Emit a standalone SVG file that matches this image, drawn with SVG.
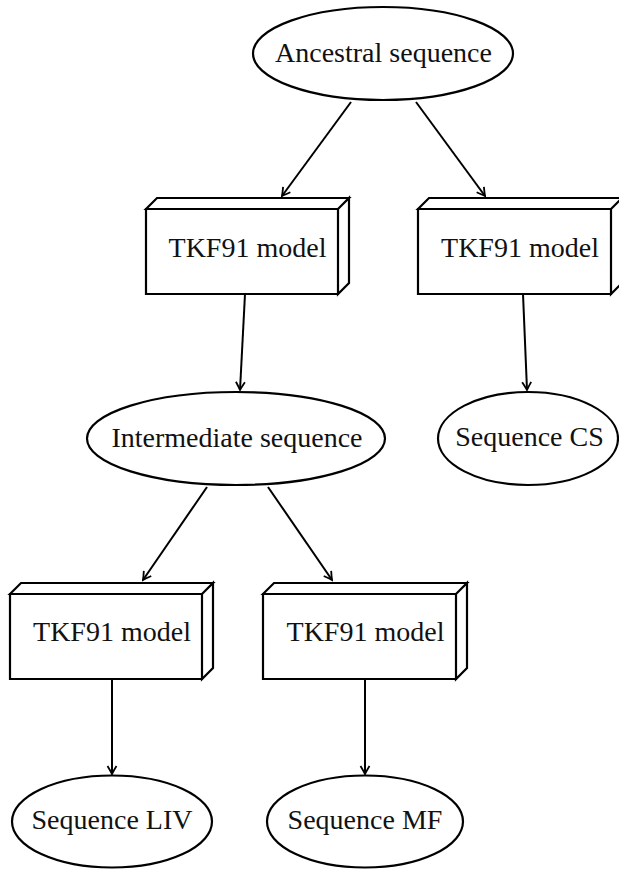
<svg xmlns="http://www.w3.org/2000/svg" width="619" height="869" viewBox="0 0 619 869">
<style>
.n{fill:#fff;stroke:#000;stroke-width:2.2;stroke-linejoin:miter}
.t{font-family:"Liberation Serif","Times New Roman",Times,serif;font-size:28px;fill:#111;text-anchor:middle}
.c{fill:none;stroke:#000;stroke-width:2}
</style>
<defs>
<marker id="ah" viewBox="-10 -6 12 12" refX="0" refY="0" markerWidth="12" markerHeight="12" markerUnits="userSpaceOnUse" orient="auto">
<path d="M-8,-4.5 Q-2.5,-1.2 0,0 Q-2.5,1.2 -8,4.5" fill="none" stroke="#000" stroke-width="1.8"/>
</marker>
</defs>
<g id="connectors">
<path class="c" d="M351,102 L282,196" marker-end="url(#ah)"/>
<path class="c" d="M416,102 L485,196" marker-end="url(#ah)"/>
<path class="c" d="M245,294 L240,390" marker-end="url(#ah)"/>
<path class="c" d="M523,294 L527,390" marker-end="url(#ah)"/>
<path class="c" d="M207,487 L143,580" marker-end="url(#ah)"/>
<path class="c" d="M268,487 L332,580" marker-end="url(#ah)"/>
<path class="c" d="M112,679 L112,774" marker-end="url(#ah)"/>
<path class="c" d="M365,679 L365,774" marker-end="url(#ah)"/>
</g>
<g id="ancestral">
<ellipse class="n" cx="383" cy="53.5" rx="130" ry="46.5"/>
<text class="t" x="383.5" y="62">Ancestral sequence</text>
</g>
<g id="tkf-left">
<path class="n" d="M146,209 H338 V294 H146 Z M146,209 L157,198 H349 L338,209 Z M338,209 L349,198 V283 L338,294 Z"/>
<text class="t" x="247.5" y="257">TKF91 model</text>
</g>
<g id="tkf-right">
<path class="n" d="M418,209 H611 V294 H418 Z M418,209 L429,198 H622 L611,209 Z M611,209 L622,198 V283 L611,294 Z"/>
<text class="t" x="520" y="257">TKF91 model</text>
</g>
<g id="intermediate">
<ellipse class="n" cx="236" cy="438.5" rx="149" ry="46.5"/>
<text class="t" x="237" y="447">Intermediate sequence</text>
</g>
<g id="seq-cs">
<ellipse class="n" cx="528" cy="438.5" rx="90" ry="46.5"/>
<text class="t" x="529.5" y="446">Sequence CS</text>
</g>
<g id="tkf-bottom-left">
<path class="n" d="M10,594 H202 V679 H10 Z M10,594 L21,583 H213 L202,594 Z M202,594 L213,583 V668 L202,679 Z"/>
<text class="t" x="112" y="641">TKF91 model</text>
</g>
<g id="tkf-bottom-right">
<path class="n" d="M263,594 H456 V679 H263 Z M263,594 L274,583 H467 L456,594 Z M456,594 L467,583 V668 L456,679 Z"/>
<text class="t" x="365.5" y="641">TKF91 model</text>
</g>
<g id="seq-liv">
<ellipse class="n" cx="112" cy="821.5" rx="100" ry="46"/>
<text class="t" x="112" y="829">Sequence LIV</text>
</g>
<g id="seq-mf">
<ellipse class="n" cx="365" cy="821.5" rx="98" ry="46"/>
<text class="t" x="365" y="829">Sequence MF</text>
</g>
</svg>
